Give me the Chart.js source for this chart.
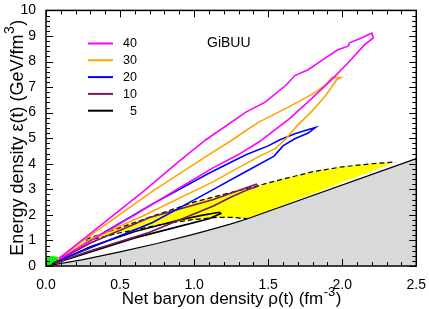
<!DOCTYPE html>
<html>
<head>
<meta charset="utf-8">
<script src="https://cdn.jsdelivr.net/npm/chart.js@4/dist/chart.umd.min.js"></script>
<style>
  html, body { margin: 0; padding: 0; background: #fff; }
  #c { display: block; }
</style>
</head>
<body>
<canvas id="c" width="429" height="309"></canvas>
<script>
// beam energies (legend) and colours
var labels = ['40', '30', '20', '10', '5'];
var colors = ['#ff00ff', '#ffa500', '#0000ff', '#7a1a5e', '#000000'];

// trajectories rho(t), eps(t)
var rho40 = [0.09, 0.35, 0.66, 0.9, 1.08, 1.35, 1.48, 1.62, 1.68, 1.77, 1.89, 1.97, 2.04, 2.05, 2.13, 2.2, 2.21,
             2.15, 2.04, 1.93, 1.79, 1.64, 1.44, 1.3, 1.13, 0.9, 0.6, 0.35, 0.1];
var eps40 = [0.31, 1.5, 2.93, 4.1, 4.94, 6.02, 6.41, 7.07, 7.45, 7.68, 8.15, 8.46, 8.6, 8.73, 8.92, 9.11, 8.92,
             8.65, 7.95, 7.3, 6.53, 5.75, 4.86, 4.36, 3.85, 3.05, 2.0, 1.15, 0.3];

var rho30 = [0.08, 0.3, 0.72, 1.1, 1.26, 1.35, 1.44, 1.57, 1.7, 1.82, 1.89, 1.93, 1.99, 1.96,
             1.89, 1.79, 1.7, 1.62, 1.55, 1.44, 1.3, 1.13, 0.65, 0.3, 0.08];
var eps30 = [0.28, 1.2, 2.93, 4.36, 4.94, 5.3, 5.64, 6.02, 6.41, 6.8, 7.1, 7.37, 7.37, 7.27,
             6.68, 6.02, 5.52, 4.98, 4.6, 4.29, 3.85, 3.3, 1.95, 1.05, 0.25];

var rho20 = [0.08, 0.3, 0.72, 1.1, 1.35, 1.5, 1.58, 1.68, 1.75, 1.82,
             1.77, 1.68, 1.6, 1.54, 1.35, 1.1, 0.72, 0.4, 0.08];
var eps20 = [0.22, 1.0, 2.43, 3.63, 4.35, 4.7, 4.94, 5.17, 5.3, 5.42,
             5.2, 4.98, 4.7, 4.3, 3.7, 2.9, 1.7, 0.95, 0.2];

var rho10 = [0.06, 0.3, 0.7, 1.13, 1.3, 1.42, 1.43, 1.36, 1.25, 1.13, 0.9, 0.7, 0.3, 0.06];
var eps10 = [0.15, 0.9, 1.9, 2.6, 2.95, 3.2, 3.12, 2.98, 2.7, 2.35, 1.8, 1.32, 0.6, 0.12];

var rho5 = [0.04, 0.3, 0.6, 0.9, 1.05, 1.17, 1.18, 1.1, 0.9, 0.6, 0.3, 0.04];
var eps5 = [0.08, 0.75, 1.35, 1.8, 1.98, 2.1, 2.05, 1.85, 1.55, 1.1, 0.55, 0.07];

// lower boundary (solid) and mixed-phase boundaries (dashed)
var rhoLow = [0, 0.25, 0.5, 0.75, 1.0, 1.13, 1.25, 1.36, 2.5];
var epsLow = [0, 0.25, 0.55, 0.88, 1.25, 1.45, 1.65, 1.85, 4.2];

var rhoDashUp = [0.27, 0.5, 0.72, 1.0, 1.2, 1.37, 1.6, 1.81, 2.0, 2.2, 2.36];
var epsDashUp = [1.05, 1.5, 1.95, 2.5, 2.8, 3.05, 3.4, 3.7, 3.88, 4.0, 4.07];

var rhoDashLow = [0.27, 0.5, 0.8, 1.0, 1.15, 1.27, 1.36];
var epsDashLow = [0.98, 1.3, 1.65, 1.82, 1.9, 1.9, 1.85];

// small green area near the origin
var rhoGreen = [0, 0, 0.04, 0.09, 0.13, 0.08, 0.02];
var epsGreen = [0, 0.35, 0.39, 0.35, 0.27, 0.12, 0.02];

function pts(xs, ys) {
    return xs.map(function (v, i) { return {x: v, y: ys[i]}; });
}

// yellow region: upper dashed, down the solid line, back along lower dashed
var yellowPts = pts(rhoDashUp, epsDashUp)
    .concat(pts(rhoDashLow.slice().reverse(), epsDashLow.slice().reverse()));
var grayPts = pts(rhoLow, epsLow).concat([{x: 2.5, y: 0}, {x: 0, y: 0}]);

var series = [rho40, rho30, rho20, rho10, rho5];
var seriesEps = [eps40, eps30, eps20, eps10, eps5];

var datasets = [];
for (let i = 0; i < series.length; i++) {
    datasets.push({
        label: labels[i],
        data: pts(series[i], seriesEps[i]),
        borderColor: colors[i],
        borderWidth: 1.6,
        order: i + 1
    });
}
datasets.push({ data: pts(rhoDashUp, epsDashUp), borderColor: '#000', borderWidth: 1.2, borderDash: [5, 3], order: 7 });
datasets.push({ data: pts(rhoDashLow, epsDashLow), borderColor: '#000', borderWidth: 1.2, borderDash: [5, 3], order: 7 });
datasets.push({ data: pts(rhoLow, epsLow), borderColor: '#000', borderWidth: 1.2, order: 8 });
datasets.push({ data: pts(rhoGreen, epsGreen), borderWidth: 0, borderColor: 'rgba(0,0,0,0)', backgroundColor: '#11ee11', fill: 'shape', order: 9 });
datasets.push({ data: yellowPts, borderWidth: 0, borderColor: 'rgba(0,0,0,0)', backgroundColor: '#ffff00', fill: 'shape', order: 10 });
datasets.push({ data: grayPts, borderWidth: 0, borderColor: 'rgba(0,0,0,0)', backgroundColor: '#d9d9d9', fill: 'shape', order: 11 });

var decor = {
    id: 'decor',
    afterDatasetsDraw: function (chart) {
        var ctx = chart.ctx, a = chart.chartArea;
        var x = chart.scales.x, y = chart.scales.y;
        ctx.save();
        ctx.strokeStyle = '#000';
        ctx.lineWidth = 1;
        ctx.beginPath();
        for (let i = 0; i <= 25; i++) {
            let px = Math.round(x.getPixelForValue(i / 10)) + 0.5;
            let len = i % 5 === 0 ? 7 : 4;
            ctx.moveTo(px, a.bottom); ctx.lineTo(px, a.bottom - len);
            ctx.moveTo(px, a.top); ctx.lineTo(px, a.top + len);
        }
        for (let i = 0; i <= 50; i++) {
            let py = Math.round(y.getPixelForValue(i / 5)) + 0.5;
            let len = i % 5 === 0 ? 7 : 4;
            ctx.moveTo(a.left, py); ctx.lineTo(a.left + len, py);
            ctx.moveTo(a.right, py); ctx.lineTo(a.right - len, py);
        }
        ctx.stroke();
        ctx.lineWidth = 1.5;
        ctx.strokeRect(a.left, a.top, a.right - a.left, a.bottom - a.top);

        // legend
        ctx.font = '12.5px "Liberation Sans", Arial, sans-serif';
        ctx.textBaseline = 'middle';
        ctx.textAlign = 'right';
        for (let i = 0; i < labels.length; i++) {
            let ly = 43.5 + i * 16.8;
            ctx.strokeStyle = colors[i];
            ctx.lineWidth = 2;
            ctx.beginPath();
            ctx.moveTo(88, ly); ctx.lineTo(113, ly);
            ctx.stroke();
            ctx.fillStyle = '#000';
            ctx.fillText(labels[i], 137, ly + 0.5);
        }
        ctx.textAlign = 'left';
        ctx.font = '14px "Liberation Sans", Arial, sans-serif';
        ctx.fillText('GiBUU', 207, 43.5);
        ctx.restore();
    },
    afterDraw: function (chart) {
        var ctx = chart.ctx, a = chart.chartArea;
        ctx.save();
        ctx.fillStyle = '#000';
        ctx.textBaseline = 'alphabetic';
        function title(main, sup, tail, size) {
            var f = size + 'px "Liberation Sans", Arial, sans-serif';
            var fs = Math.round(size * 0.75) + 'px "Liberation Sans", Arial, sans-serif';
            ctx.font = f;
            var w1 = ctx.measureText(main).width;
            var w3 = ctx.measureText(tail).width;
            ctx.font = fs;
            var w2 = ctx.measureText(sup).width;
            var x0 = -(w1 + w2 + w3) / 2;
            ctx.font = f;
            ctx.fillText(main, x0, 0);
            ctx.fillText(tail, x0 + w1 + w2 + 1, 0);
            ctx.font = fs;
            ctx.fillText(sup, x0 + w1 + 0.5, -size * 0.5);
        }
        ctx.save();
        ctx.translate((a.left + a.right) / 2, 304);
        title('Net baryon density \u03c1(t) (fm', '-3', ')', 17);
        ctx.restore();
        ctx.save();
        ctx.translate(23, (a.top + a.bottom) / 2);
        ctx.rotate(-Math.PI / 2);
        title('Energy density \u03b5(t) (GeV/fm', '3', ')', 18);
        ctx.restore();
        ctx.restore();
    }
};

new Chart(document.getElementById('c'), {
    type: 'scatter',
    data: { datasets: datasets },
    options: {
        responsive: false,
        animation: false,
        showLine: true,
        layout: { padding: { top: 7, right: 10, left: 0, bottom: 0 } },
        elements: {
            point: { radius: 0, hoverRadius: 0 },
            line: { tension: 0, fill: false }
        },
        plugins: {
            legend: { display: false },
            tooltip: { enabled: false }
        },
        scales: {
            x: {
                type: 'linear', min: 0, max: 2.5,
                grid: { display: false },
                border: { display: false },
                ticks: {
                    stepSize: 0.5, padding: 3, color: '#000',
                    font: { size: 14, family: '"Liberation Sans", Arial, sans-serif' },
                    maxRotation: 0,
                    callback: function (v) { return v.toFixed(1); }
                },
                afterFit: function (s) { s.height = 43; }
            },
            y: {
                type: 'linear', min: 0, max: 10,
                grid: { display: false },
                border: { display: false },
                ticks: {
                    stepSize: 1, padding: 2, color: '#000',
                    font: { size: 14, family: '"Liberation Sans", Arial, sans-serif' }
                },
                afterFit: function (s) { s.width = 46; }
            }
        }
    },
    plugins: [decor]
});
</script>
</body>
</html>
